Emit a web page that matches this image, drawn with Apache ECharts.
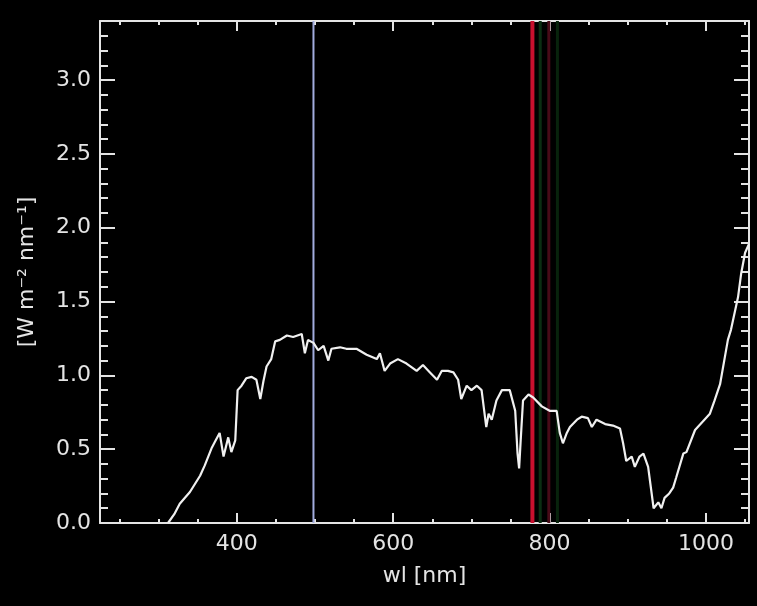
<!DOCTYPE html>
<html>
<head>
<meta charset="utf-8">
<script src="https://cdn.jsdelivr.net/npm/echarts@6/dist/echarts.min.js"></script>
<style>
  html, body { margin: 0; padding: 0; background: #000; }
  #chart { width: 757px; height: 606px; }
</style>
</head>
<body>
<div id="chart"></div>
<script>
// Spectral irradiance, wavelength in nm
const wavelengths = [
  312, 320, 327, 340, 353, 359, 368, 372, 378, 383, 389, 393, 398,
  401, 406, 412, 419, 425, 430, 434, 438, 444, 449, 455, 464, 472,
  483, 487, 491, 498, 504, 511, 517, 521, 532, 540, 553, 566, 579,
  583, 589, 596, 606, 617, 630, 638, 647, 656, 662, 670, 677, 683,
  687, 694, 700, 707, 713, 719, 722, 726, 732, 739, 749, 756, 759,
  761, 763, 766, 773, 779, 790, 800, 809, 813, 817, 822, 826, 835,
  841, 849, 854, 860, 871, 881, 890, 894, 898, 905, 909, 915, 920,
  926, 930, 933, 939, 943, 947, 953, 958, 962, 971, 975, 986, 1005,
  1011, 1018, 1028, 1032, 1041, 1045, 1050, 1055
];
const irradiance = [
  0.00, 0.06, 0.13, 0.21, 0.32, 0.39, 0.51, 0.55, 0.61, 0.45, 0.58, 0.48, 0.56,
  0.90, 0.93, 0.98, 0.99, 0.97, 0.84, 0.96, 1.06, 1.11, 1.23, 1.24, 1.27, 1.26,
  1.28, 1.15, 1.24, 1.22, 1.17, 1.20, 1.10, 1.18, 1.19, 1.18, 1.18, 1.14, 1.11,
  1.15, 1.03, 1.08, 1.11, 1.08, 1.03, 1.07, 1.02, 0.97, 1.03, 1.03, 1.02, 0.97,
  0.84, 0.93, 0.90, 0.93, 0.90, 0.65, 0.74, 0.70, 0.83, 0.90, 0.90, 0.76, 0.47,
  0.37, 0.56, 0.83, 0.87, 0.85, 0.79, 0.76, 0.76, 0.61, 0.54, 0.61, 0.65, 0.70,
  0.72, 0.71, 0.65, 0.70, 0.67, 0.66, 0.64, 0.54, 0.42, 0.45, 0.38, 0.45, 0.47,
  0.38, 0.22, 0.10, 0.14, 0.10, 0.17, 0.20, 0.24, 0.31, 0.47, 0.48, 0.63, 0.74,
  0.83, 0.94, 1.24, 1.31, 1.53, 1.69, 1.83, 1.89
];

// Band positions marked with vertical lines (nm)
const bandLines = [498, 778, 788, 799, 810];

// Axis ranges and ticks
const xRange = [225, 1055];
const yRange = [0, 3.4];
const xMajorTicks = [400, 600, 800, 1000];
const xMinorTicks = [250, 300, 350, 450, 500, 550, 650, 700, 750, 850, 900, 950, 1050];
const yMajorTicks = [0, 0.5, 1.0, 1.5, 2.0, 2.5, 3.0];
const yMinorTicks = [0.1, 0.2, 0.3, 0.4, 0.6, 0.7, 0.8, 0.9, 1.1, 1.2, 1.3, 1.4,
  1.6, 1.7, 1.8, 1.9, 2.1, 2.2, 2.3, 2.4, 2.6, 2.7, 2.8, 2.9, 3.1, 3.2, 3.3];

const FG = '#e4e4e4';
const FONT = 'DejaVu Sans';
const bandStyles = [
  { color: '#a2acde', width: 2 },
  { color: '#c8102e', width: 4 },
  { color: '#0b2e12', width: 3 },
  { color: '#480b18', width: 3 },
  { color: '#08230c', width: 3 }
];

function xAxisDef(position, ticks, len, withLine, withLabels) {
  return {
    type: 'value', position: position, min: xRange[0], max: xRange[1],
    splitLine: { show: false },
    axisLine: { show: withLine, onZero: false, lineStyle: { color: FG, width: 2 } },
    axisTick: { show: true, inside: true, length: len, customValues: ticks,
                lineStyle: { color: FG, width: 2 } },
    axisLabel: withLabels
      ? { show: true, customValues: ticks, color: FG, fontFamily: FONT, fontSize: 22, margin: 10,
          formatter: v => String(v) }
      : { show: false }
  };
}
function yAxisDef(position, ticks, len, withLine, withLabels) {
  return {
    type: 'value', position: position, min: yRange[0], max: yRange[1],
    splitLine: { show: false },
    axisLine: { show: withLine, onZero: false, lineStyle: { color: FG, width: 2 } },
    axisTick: { show: true, inside: true, length: len, customValues: ticks,
                lineStyle: { color: FG, width: 2 } },
    axisLabel: withLabels
      ? { show: true, customValues: ticks, color: FG, fontFamily: FONT, fontSize: 22, margin: 9,
          formatter: v => v.toFixed(1) }
      : { show: false }
  };
}

const xAxes = [
  Object.assign(xAxisDef('bottom', xMajorTicks, 10, true, true), {
    name: 'wl [nm]', nameLocation: 'middle', nameGap: 42,
    nameTextStyle: { color: FG, fontFamily: FONT, fontSize: 22 }
  }),
  xAxisDef('bottom', xMinorTicks, 4, false, false),
  xAxisDef('top', xMajorTicks, 10, true, false),
  xAxisDef('top', xMinorTicks, 4, false, false)
];
const yAxes = [
  Object.assign(yAxisDef('left', yMajorTicks, 15, true, true), {
    name: '[W m\u207B\u00B2 nm\u207B\u00B9]', nameLocation: 'middle', nameGap: 62, nameRotate: 90,
    nameTextStyle: { color: FG, fontFamily: FONT, fontSize: 22 }
  }),
  yAxisDef('left', yMinorTicks, 8, false, false),
  yAxisDef('right', yMajorTicks, 15, true, false),
  yAxisDef('right', yMinorTicks, 8, false, false)
];

const series = bandLines.map((wl, i) => ({
  type: 'line',
  data: [[wl, yRange[0]], [wl, yRange[1]]],
  symbol: 'none', silent: true, z: 1,
  lineStyle: { color: bandStyles[i].color, width: bandStyles[i].width }
}));
series.push({
  type: 'line',
  data: wavelengths.map((w, i) => [w, irradiance[i]]),
  symbol: 'none', z: 5,
  lineStyle: { color: '#f0f0f0', width: 2.2 }
});

const chart = echarts.init(document.getElementById('chart'), null, { renderer: 'canvas' });
chart.setOption({
  backgroundColor: '#000',
  animation: false,
  grid: { left: 100, right: 8, top: 21, bottom: 83, containLabel: false },
  xAxis: xAxes,
  yAxis: yAxes,
  series: series
});
</script>
</body>
</html>
